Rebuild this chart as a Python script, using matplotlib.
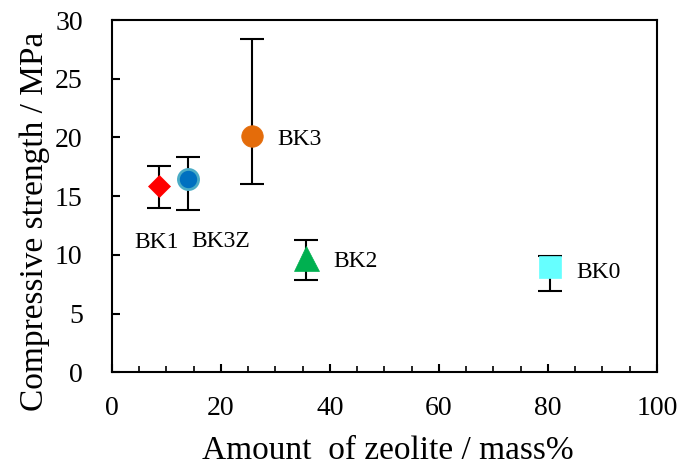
import numpy as np
import matplotlib.pyplot as plt
from matplotlib.ticker import MultipleLocator

plt.rcParams['font.family'] = ['Liberation Serif', 'DejaVu Serif']

# data
names = ["BK1", "BK3Z", "BK3", "BK2", "BK0"]
zeolite = [8.6, 13.9, 25.7, 35.6, 80.3]
strength = [15.9, 16.5, 20.1, 9.7, 8.95]
err_low = [1.9, 2.7, 4.1, 1.85, 2.0]
err_high = [1.7, 1.85, 8.3, 1.55, 0.95]
label_pos = [(8.2, 10.6), (20.0, 10.7), (30.3, 19.35), (40.7, 8.97), (85.2, 8.0)]
label_ha = ["center", "center", "left", "left", "left"]

markers = ["D", "o", "o", "^", "s"]
faces = ["#FF0000", "#0070C0", "#E46C0A", "#00B050", "#66FFFF"]
edges = ["#FF0000", "#4BACC6", "#E46C0A", "#00B050", "#66FFFF"]
sizes = [11.7, 14.5, 15.5, 18, 15.5]

fig = plt.figure(figsize=(6.78, 4.67), dpi=100)
ax = fig.add_axes([0.165, 0.203, 0.804, 0.754])

for i in range(len(names)):
    ax.errorbar(zeolite[i], strength[i], yerr=[[err_low[i]], [err_high[i]]],
                fmt="none", ecolor="black", elinewidth=1.5, capsize=8.5,
                capthick=1.5, zorder=2)
    ax.plot(zeolite[i], strength[i], marker=markers[i], markersize=sizes[i],
            markerfacecolor=faces[i], markeredgecolor=edges[i],
            markeredgewidth=2 if i == 1 else 0.5, linestyle="none", zorder=3)
    ax.text(label_pos[i][0], label_pos[i][1], names[i], fontsize=17,
            ha=label_ha[i], va="baseline")

ax.set_xlim(0, 100)
ax.set_ylim(0, 30)
ax.xaxis.set_major_locator(MultipleLocator(20))
ax.xaxis.set_minor_locator(MultipleLocator(5))
ax.yaxis.set_major_locator(MultipleLocator(5))

for s in ax.spines.values():
    s.set_linewidth(1.5)
ax.tick_params(axis="x", which="major", direction="in", length=6, width=1.5,
               labelsize=20, pad=17)
ax.tick_params(axis="x", which="minor", direction="in", length=4, width=1.2)
ax.tick_params(axis="y", which="major", direction="in", length=6, width=1.5,
               labelsize=20, pad=21)

ax.set_xlabel("Amount  of zeolite / mass%", fontsize=24)
ax.set_ylabel("Compressive strength / MPa", fontsize=24)
ax.xaxis.set_label_coords(0.506, -0.181)
ax.yaxis.set_label_coords(-0.114, 0.428)

fig.savefig("out.png", dpi=100)
